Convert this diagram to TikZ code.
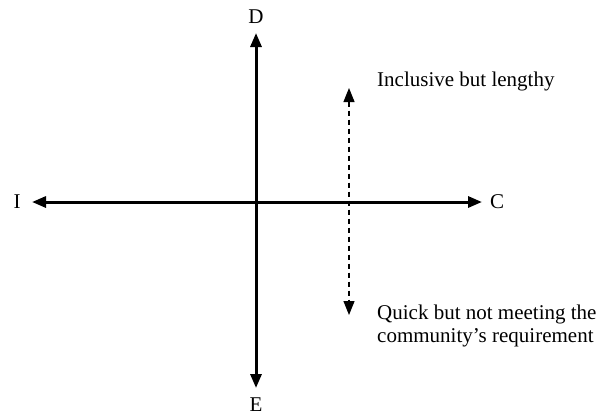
\documentclass[tikz,border=0pt]{standalone}
\usepackage{fontspec}
\setmainfont{Liberation Serif}
\usetikzlibrary{arrows.meta}
\begin{document}
\begin{tikzpicture}[x=1pt,y=-1pt,
  lbl/.style={font=\fontsize{21}{23}\selectfont, inner sep=0pt},
  axis/.style={line width=3pt, -{Triangle[length=14pt,width=11pt]}},
  dasharrow/.style={line width=1.2pt, dash pattern=on 5pt off 4pt, {Triangle[length=14pt,width=11pt]}-{Triangle[length=14pt,width=11pt]}}]
  \useasboundingbox (0,0) rectangle (609,416);
  \coordinate (o) at (256,202);
  \coordinate (top) at (256,33);
  \coordinate (bot) at (256,388);
  \coordinate (lft) at (32,202);
  \coordinate (rgt) at (482,202);
  \node[lbl] (D) at (256,17) {D};
  \node[lbl] (E) at (256,405) {E};
  \node[lbl] (I) at (17,202) {I};
  \node[lbl] (C) at (497,202) {C};
  \draw[axis] (o) -- (top);
  \draw[axis] (o) -- (bot);
  \draw[axis] (o) -- (lft);
  \draw[axis] (o) -- (rgt);
  \coordinate (dtop) at (349,88);
  \coordinate (dbot) at (349,315);
  \draw[dasharrow] (dtop) -- (dbot);
  \node[lbl, anchor=base west] (inc) at (377,86) {Inclusive but lengthy};
  \node[lbl, anchor=north west, align=left] (quick) at (377,304.5) {Quick but not meeting the\\community’s requirement};
\end{tikzpicture}
\end{document}
